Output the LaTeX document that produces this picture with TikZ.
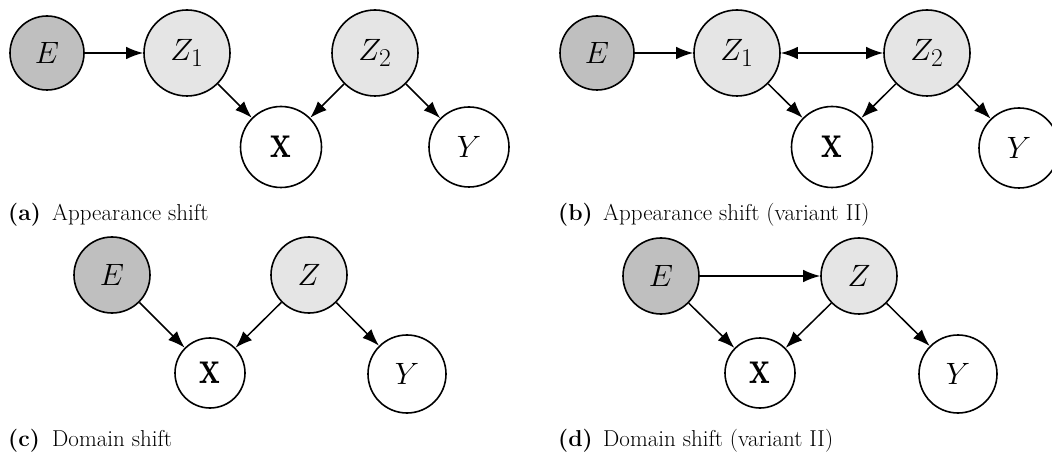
\documentclass[tikz,border=0pt]{standalone}
\usetikzlibrary{arrows.meta}
\usepackage{graphicx}
\newcommand{\mv}[1]{\scalebox{1.24}{$#1$}}
\newcommand{\bvec}{\scalebox{1.4}[1.95]{$\mathbf{x}$}}
\begin{document}
\begin{tikzpicture}[x=1pt,y=-1pt,
  var/.style={circle,draw,line width=1.6pt,inner sep=0pt,font=\fontsize{24.88}{30}\selectfont},
  env/.style={var,fill=black!25},
  lat/.style={var,fill=black!10},
  obs/.style={var,fill=white},
  edge/.style={line width=1.5pt,-{Latex[length=17pt,width=12.5pt]}},
  bedge/.style={line width=1.5pt,{Latex[length=17pt,width=12.5pt]}-{Latex[length=17pt,width=12.5pt]}},
  capl/.style={anchor=base west,inner sep=0pt,font=\fontsize{23}{26}\selectfont\bfseries},
  capt/.style={anchor=base west,inner sep=0pt,font=\fontsize{23}{26}\selectfont}
]
\useasboundingbox (0,0) rectangle (1052,454);

% (a)
\node[env,minimum size=74pt] (aE) at (47,53) {\mv{E}};
\node[lat,minimum size=86pt] (aZ1) at (187,53) {\mv{Z_1}};
\node[lat,minimum size=86pt] (aZ2) at (375,53) {\mv{Z_2}};
\node[obs,minimum size=81pt] (aX) at (281,147) {\bvec};
\node[obs,minimum size=80pt] (aY) at (469,147) {\mv{Y}};
\draw[edge] (aE) -- (aZ1);
\draw[edge] (aZ1) -- (aX);
\draw[edge] (aZ2) -- (aX);
\draw[edge] (aZ2) -- (aY);
\node[capl] (acl) at (8,221) {(a)};
\node[capt] (act) at (52,221) {Appearance shift};

% (b)
\node[env,minimum size=74pt] (bE) at (597,53) {\mv{E}};
\node[lat,minimum size=86pt] (bZ1) at (737,53) {\mv{Z_1}};
\node[lat,minimum size=86pt] (bZ2) at (927,53) {\mv{Z_2}};
\node[obs,minimum size=81pt] (bX) at (832,147) {\bvec};
\node[obs,minimum size=80pt] (bY) at (1019,148) {\mv{Y}};
\draw[edge] (bE) -- (bZ1);
\draw[bedge] (bZ1) -- (bZ2);
\draw[edge] (bZ1) -- (bX);
\draw[edge] (bZ2) -- (bX);
\draw[edge] (bZ2) -- (bY);
\node[capl] (bcl) at (558,221) {(b)};
\node[capt] (bct) at (603,221) {Appearance shift (variant II)};

% (c)
\node[env,minimum size=76pt] (cE) at (112,275) {\mv{E}};
\node[lat,minimum size=76pt] (cZ) at (309,275) {\mv{Z}};
\node[obs,minimum size=70pt] (cX) at (210,373) {\bvec};
\node[obs,minimum size=78pt] (cY) at (407,374) {\mv{Y}};
\draw[edge] (cE) -- (cX);
\draw[edge] (cZ) -- (cX);
\draw[edge] (cZ) -- (cY);
\node[capl] (ccl) at (8,446) {(c)};
\node[capt] (cct) at (52,446) {Domain shift};

% (d)
\node[env,minimum size=76pt] (dE) at (661,276) {\mv{E}};
\node[lat,minimum size=76pt] (dZ) at (859,276) {\mv{Z}};
\node[obs,minimum size=70pt] (dX) at (760,373) {\bvec};
\node[obs,minimum size=78pt] (dY) at (958,374) {\mv{Y}};
\draw[edge] (dE) -- (dZ);
\draw[edge] (dE) -- (dX);
\draw[edge] (dZ) -- (dX);
\draw[edge] (dZ) -- (dY);
\node[capl] (dcl) at (558,446) {(d)};
\node[capt] (dct) at (603,446) {Domain shift (variant II)};
\end{tikzpicture}
\end{document}
